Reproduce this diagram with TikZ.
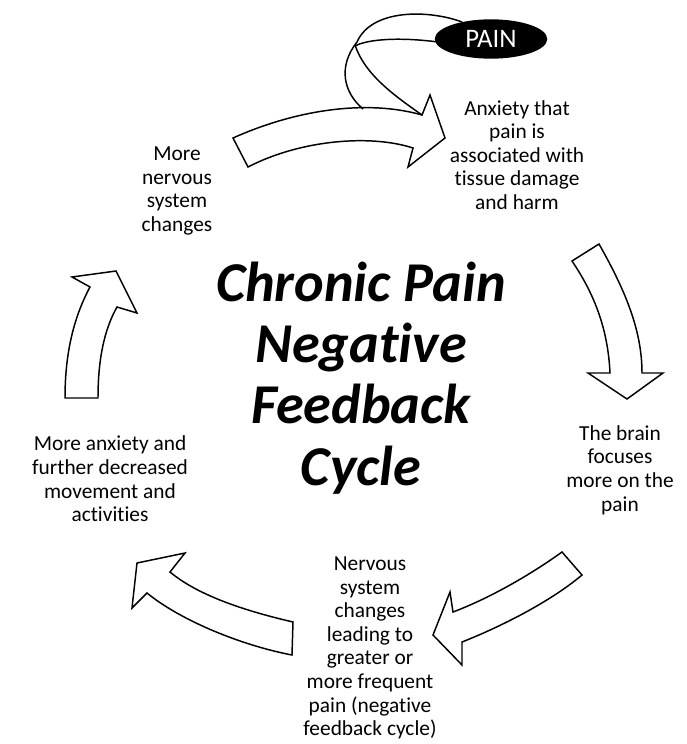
\documentclass[tikz,border=0pt]{standalone}
\usepackage{fontspec}
\setmainfont{Carlito}[Ligatures={CommonOff,ContextualOff}]
\usetikzlibrary{shapes.geometric}
\tikzset{
	blockarrow/.style={draw, fill=white, line width=1.05pt, line join=miter},
	ribbon/.style={draw, line width=1.05pt},
	caption/.style={align=center, inner sep=0pt, font=\fontsize{15.2}{16.8}\selectfont},
	titletext/.style={align=center, inner sep=0pt, font=\fontsize{40}{43.5}\selectfont\bfseries\itshape}
}
\begin{document}
\begin{tikzpicture}[x=0.025cm, y=-0.025cm]
		\useasboundingbox (0,0) rectangle (686,744);

		% block arrows round the cycle
		\draw[blockarrow] (233,138) .. controls (300,108) and (370,100) .. (422,115) -- (430,95)
		-- (445,138) -- (408,167) -- (413,148) .. controls (370,134) and (300,140) .. (248,167) -- cycle;
		\draw[blockarrow] (599,244) .. controls (625,290) and (642,330) .. (642,373) -- (663,373)
		-- (627,399) -- (588,373) -- (610,373) .. controls (608,330) and (595,295) .. (572,261) -- cycle;
		\draw[blockarrow] (562,552) .. controls (530,575) and (490,598) .. (453,612) -- (450,592)
		-- (433,635) -- (462,665) -- (462,642) .. controls (500,627) and (550,602) .. (582,575) -- cycle;
		\draw[blockarrow] (293,622) .. controls (250,612) and (200,597) .. (170,572) -- (185,553)
		-- (137,563) -- (132,608) -- (147,593) .. controls (180,620) and (240,645) .. (292,655) -- cycle;
		\draw[blockarrow] (65,398) .. controls (65,350) and (75,315) .. (90,287) -- (72,277)
		-- (116,271) -- (137,313) -- (117,307) .. controls (104,330) and (98,360) .. (98,398) -- cycle;

		% twisted ribbon coming out of the pain
		\draw[ribbon] (462,22) .. controls (430,10) and (372,8) .. (357,42);
		\draw[ribbon] (438,42) .. controls (400,37) and (368,39) .. (355,46);
		\draw[ribbon] (357,42) .. controls (338,66) and (343,92) .. (363,109);
		\draw[ribbon] (355,45) .. controls (365,75) and (395,96) .. (422,115);

		\node[ellipse, fill=black, minimum width=80pt, minimum height=28pt, inner sep=0pt,
			text=white, font=\fontsize{19}{21}\selectfont] (pain) at (491,39) {PAIN};

		% texts
		\node[titletext] (title) at (361,378) {Chronic Pain\\Negative\\Feedback\\Cycle};
		\node[caption] (anxiety) at (517,155) {Anxiety that\\pain is\\associated with\\tissue damage\\and harm};
		\node[caption] (focus) at (620,470) {The brain\\focuses\\more on the\\pain};
		\node[caption] (changes) at (370,648) {Nervous\\system\\changes\\leading to\\greater or\\more frequent\\pain (negative\\feedback cycle)};
		\node[caption] (movement) at (110,479) {More anxiety and\\further decreased\\movement and\\activities};
		\node[caption] (nervous) at (177,191) {More\\nervous\\system\\changes};
	\end{tikzpicture}
\end{document}
